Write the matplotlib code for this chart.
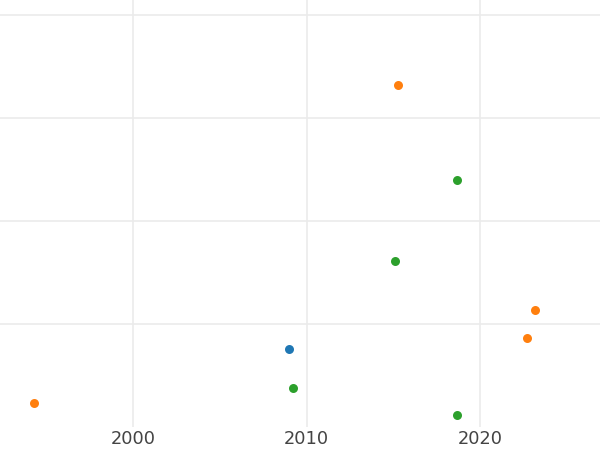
import matplotlib.pyplot as plt

# values (y has no labels, arbitrary units)
blue_x = [2009.0]
blue_y = [0.76]
orange_x = [1994.3, 2015.3, 2023.2, 2022.7]
orange_y = [0.23, 3.32, 1.14, 0.86]
green_x = [2009.2, 2018.7, 2015.1, 2018.7]
green_y = [0.38, 2.40, 1.61, 0.12]

xticks = [2000, 2010, 2020]
yticks = [1, 2, 3, 4]

fig = plt.figure(figsize=(6, 4.5), dpi=100)
ax = fig.add_axes([0, 23 / 450, 1, 427 / 450])

ax.scatter(blue_x, blue_y, s=42, color="#1f77b4", zorder=3, linewidths=0)
ax.scatter(orange_x, orange_y, s=42, color="#ff7f0e", zorder=3, linewidths=0)
ax.scatter(green_x, green_y, s=42, color="#2ca02c", zorder=3, linewidths=0)

ax.set_xlim(1992.33, 2026.92)
ax.set_ylim(0, 4.146)
ax.set_xticks(xticks)
ax.set_xticklabels([str(t) for t in xticks])
ax.set_yticks(yticks)
ax.set_yticklabels([])
ax.tick_params(length=0, labelsize=12.75, labelcolor="#444444", pad=2.5)
ax.grid(True, color="#ebebeb", linewidth=1.2)
ax.set_axisbelow(True)
for s in ax.spines.values():
    s.set_visible(False)

fig.savefig("out.png", dpi=100)
